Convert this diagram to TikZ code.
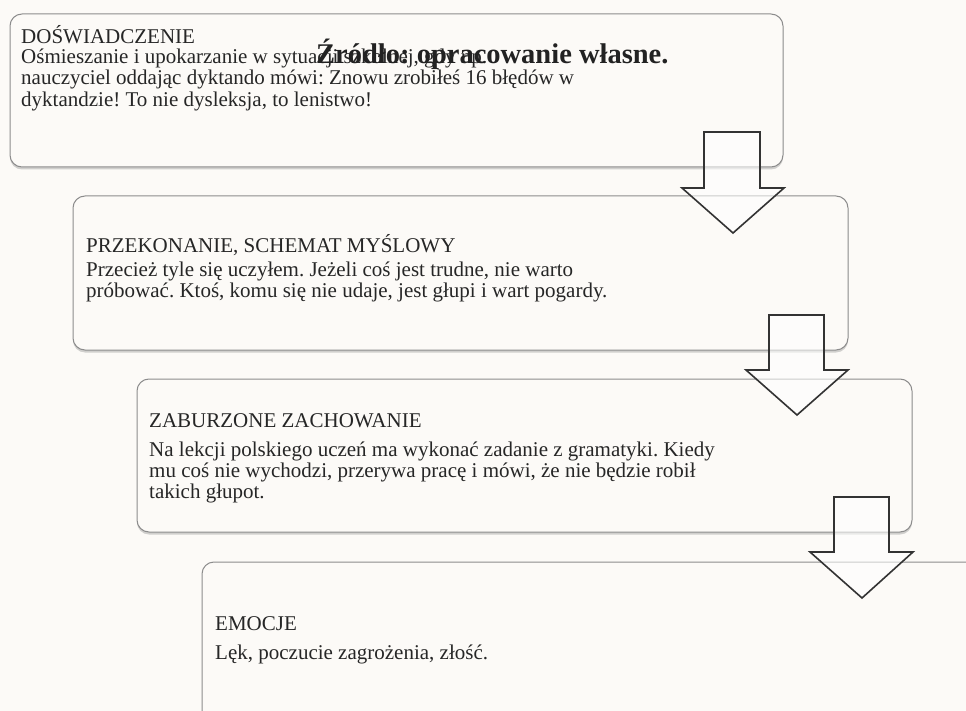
\documentclass[tikz,border=0pt]{standalone}
\usepackage{fontspec}
\setmainfont{Liberation Serif}
\usetikzlibrary{shadows}
\definecolor{bg}{HTML}{FCFAF7}
\definecolor{boxline}{HTML}{8C8C8C}
\definecolor{txt}{HTML}{262626}
\definecolor{arrowline}{HTML}{333333}
\tikzset{
  stagebox/.style={draw=boxline, line width=1pt, fill=bg, rounded corners=12pt,
    drop shadow={opacity=0.35, shadow xshift=0pt, shadow yshift=-2.5pt}},
  ttl/.style={anchor=base west, inner sep=0pt, text=txt, font=\fontsize{21}{21}\selectfont},
  bodytxt/.style={anchor=base west, inner sep=0pt, text=txt, font=\fontsize{21}{21}\selectfont},
  blockarrow/.style={draw=arrowline, line width=1.6pt, fill=white, fill opacity=0.55, line join=miter},
}
\frenchspacing
\begin{document}
\begin{tikzpicture}[x=1pt,y=-1pt]
\useasboundingbox (0,0) rectangle (966,711);
\fill[bg] (0,0) rectangle (966,711);
\clip (0,0) rectangle (966,711);

% boxes
\path[stagebox] (10,14) rectangle (783,167);
\coordinate (b1) at (10,14);
\path[stagebox] (73,196) rectangle (848,350);
\coordinate (b2) at (73,196);
\path[stagebox] (137,379) rectangle (912,532);
\coordinate (b3) at (137,379);
\path[stagebox] (202,562) rectangle (1000,760);
\coordinate (b4) at (202,562);

% texts
\node[ttl] (t1) at (21,44) {DOŚWIADCZENIE};
\node[bodytxt] (d1a) at (21,63.5) {Ośmieszanie i upokarzanie w sytuacji szkolnej, gdy np.};
\node[bodytxt] (d1b) at (21,85) {nauczyciel oddając dyktando mówi: Znowu zrobiłeś 16 błędów w};
\node[bodytxt] (d1c) at (21,106.3) {dyktandzie! To nie dysleksja, to lenistwo!};
\node[anchor=base west, inner sep=0pt, text=txt!90!black, font=\bfseries\fontsize{28.5}{30}\selectfont] (src) at (316,64) {Źródło: opracowanie własne.};

\node[ttl] (t2) at (86,253) {PRZEKONANIE, SCHEMAT MYŚLOWY};
\node[bodytxt] (d2a) at (86,276.5) {Przecież tyle się uczyłem. Jeżeli coś jest trudne, nie warto};
\node[bodytxt] (d2b) at (86,297.5) {próbować. Ktoś, komu się nie udaje, jest głupi i wart pogardy.};

\node[ttl] (t3) at (149,427) {ZABURZONE ZACHOWANIE};
\node[bodytxt] (d3a) at (149,456) {Na lekcji polskiego uczeń ma wykonać zadanie z gramatyki. Kiedy};
\node[bodytxt] (d3b) at (149,477) {mu coś nie wychodzi, przerywa pracę i mówi, że nie będzie robił};
\node[bodytxt] (d3c) at (149,498) {takich głupot.};

\node[ttl] (t4) at (215,630) {EMOCJE};
\node[bodytxt] (d4) at (215,659) {Lęk, poczucie zagrożenia, złość.};

% block arrows
\path[blockarrow] (704,132) -- (760,132) -- (760,188) -- (784,188) -- (733,233) -- (682,188) -- (704,188) -- cycle;
\path[blockarrow] (769,315) -- (824,315) -- (824,370) -- (848,370) -- (797,415) -- (746,370) -- (769,370) -- cycle;
\path[blockarrow] (834,497) -- (889,497) -- (889,552) -- (913,552) -- (862,598) -- (810,552) -- (834,552) -- cycle;
\end{tikzpicture}
\end{document}
